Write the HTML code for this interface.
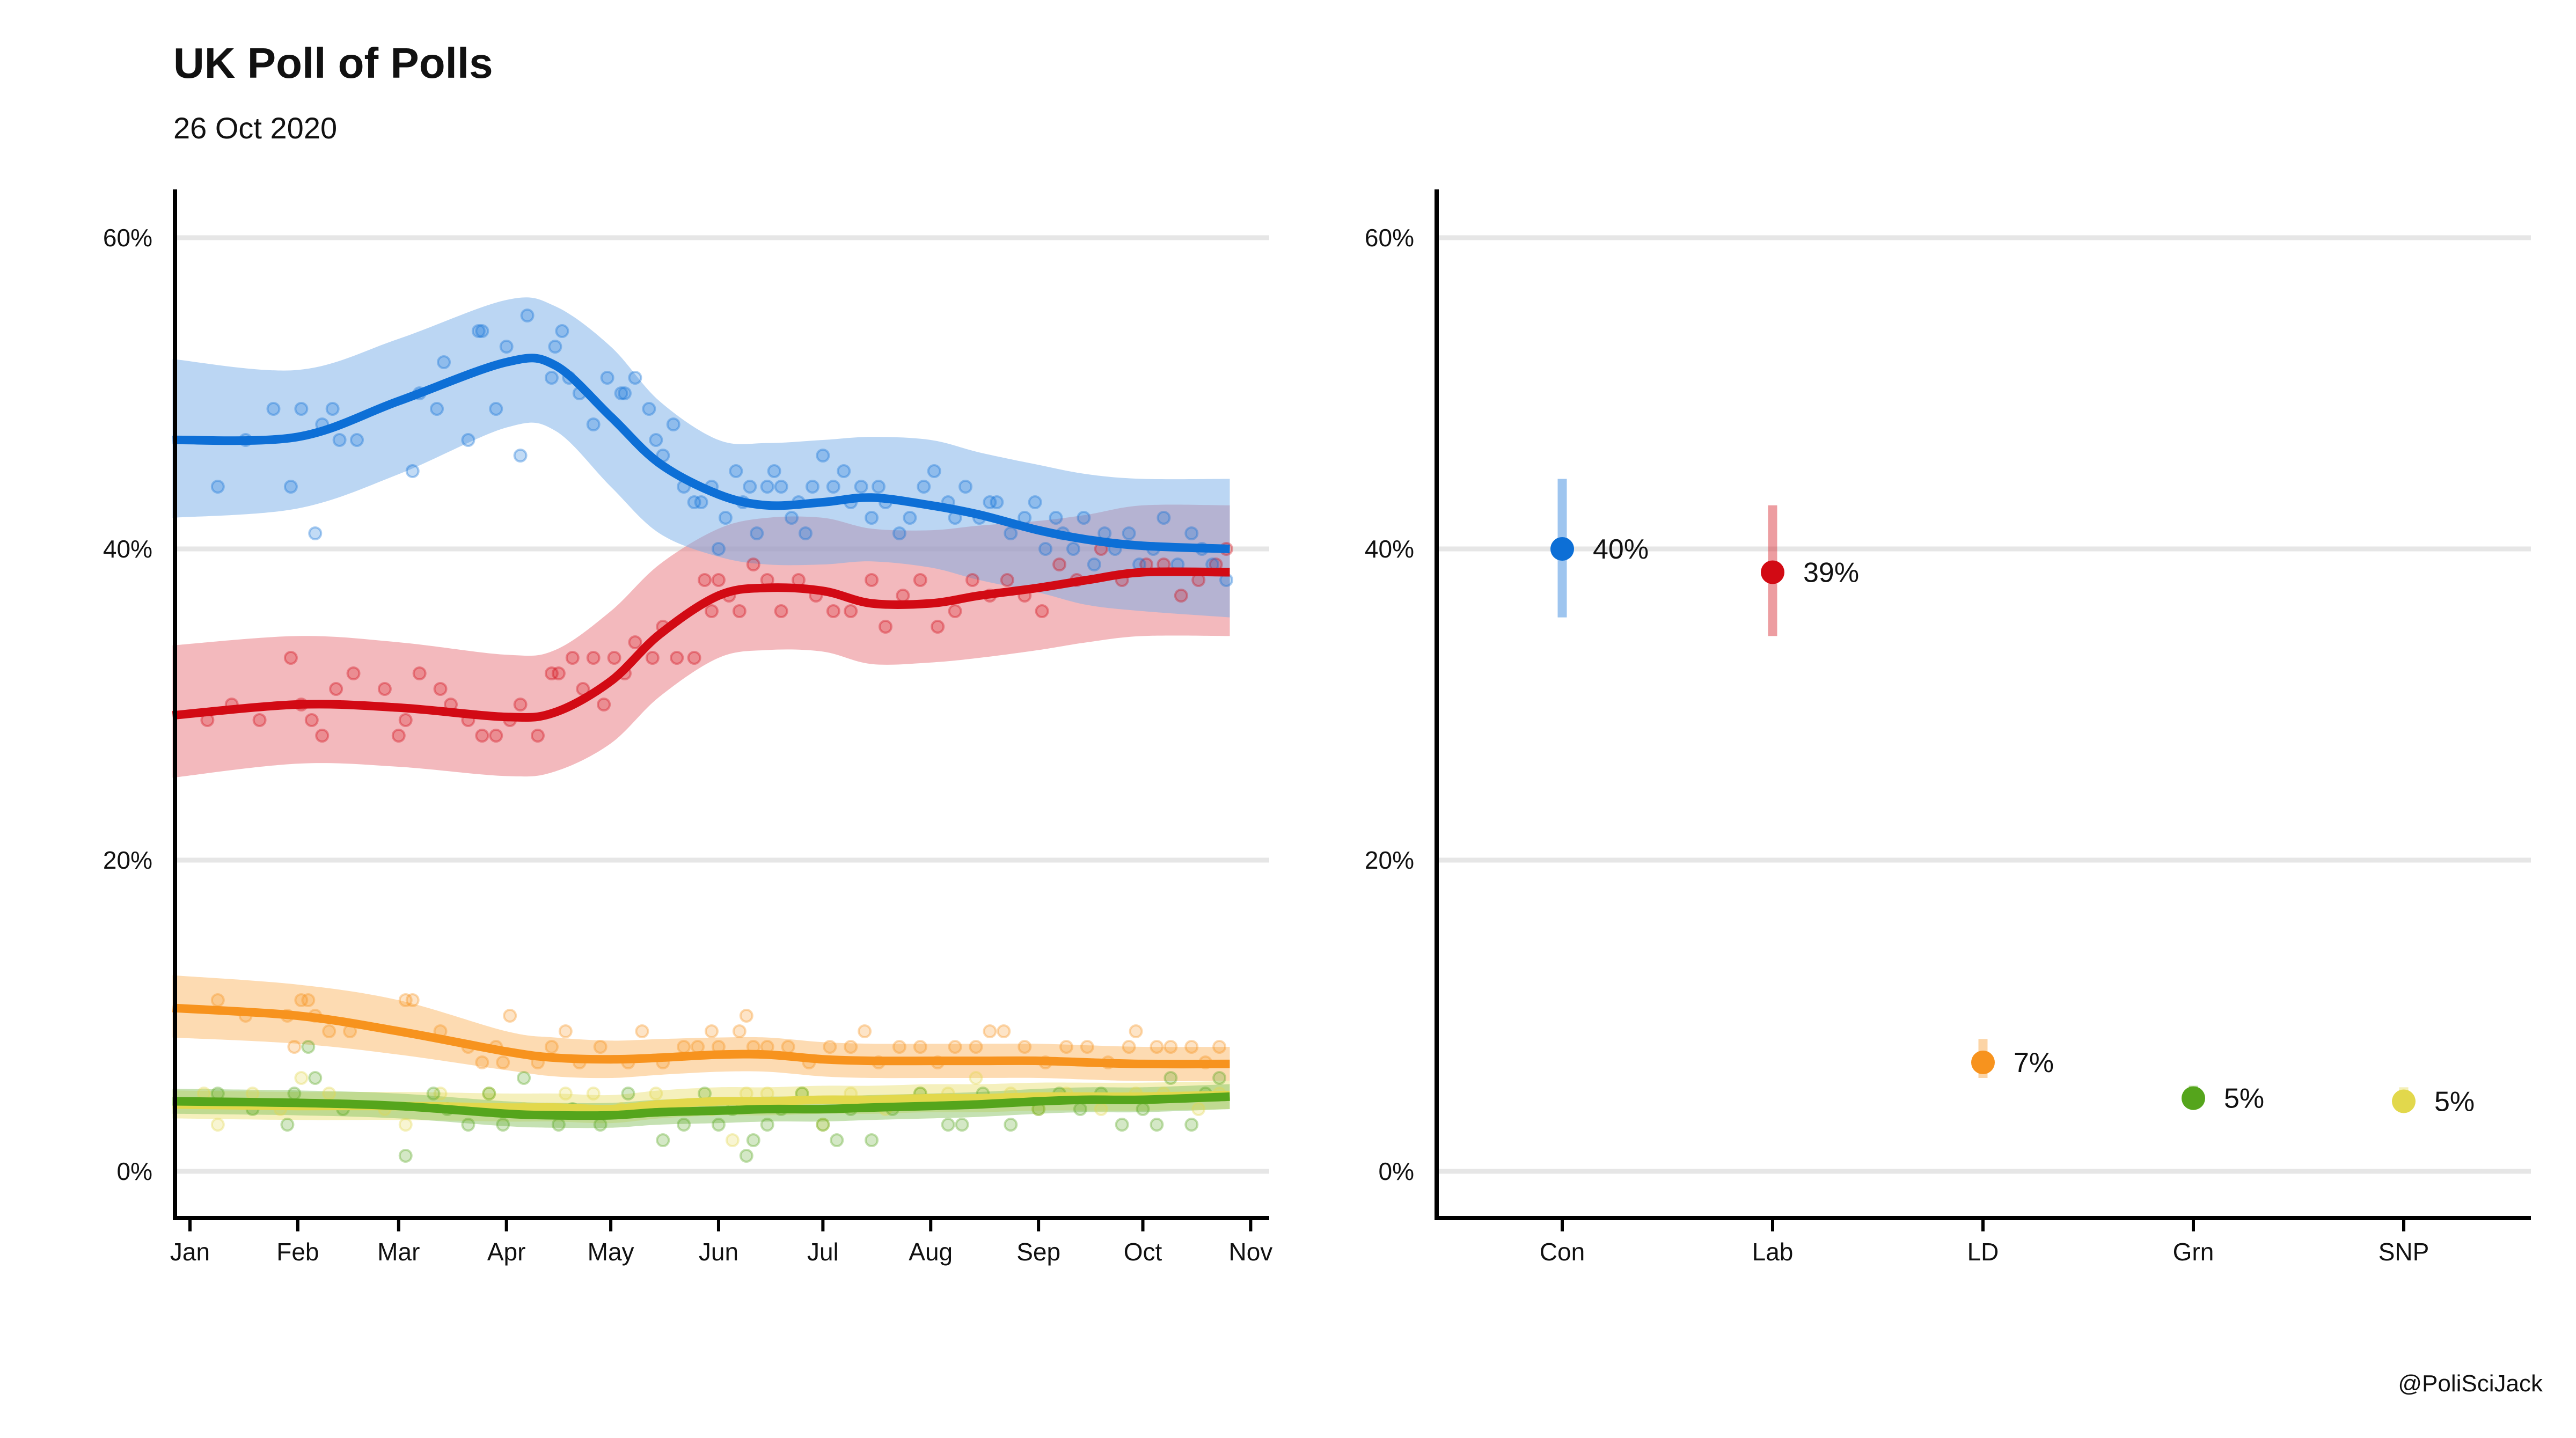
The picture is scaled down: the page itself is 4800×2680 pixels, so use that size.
<!DOCTYPE html>
<html><head><meta charset="utf-8"><style>
html,body{margin:0;padding:0;background:#fff;}
svg{display:block;font-family:"Liberation Sans",sans-serif;}
</style></head><body>
<svg id="chart" width="4800" height="2680" viewBox="0 0 4800 2680" xmlns="http://www.w3.org/2000/svg">
<text x="323" y="145" font-size="80" font-weight="bold" fill="#111">UK Poll of Polls</text>
<text x="323" y="258" font-size="56" fill="#111">26 Oct 2020</text>
<text x="4738" y="2593" font-size="44" text-anchor="end" fill="#111">@PoliSciJack</text>
<g id="left"></g>
<g id="right"></g>
</svg>
<script>
const yTicks=[0,20,40,60];
const monthLabels=["Jan","Feb","Mar","Apr","May","Jun","Jul","Aug","Sep","Oct","Nov"];
const monthDays=[0,31,60,91,121,152,182,213,244,274,305];
const knotDays=[-5,31,60,91,105,121,135,152,166,182,196,213,227,244,258,274,299];
const conTrend=[47,47.2,49.5,52,51.8,48.5,45.5,43.5,42.8,43,43.3,42.8,42.2,41.2,40.6,40.2,40];
const conUpper=[52.2,51.5,53.5,56,55.6,53,49.5,47,46.8,47,47.2,47,46.2,45.4,44.8,44.5,44.5];
const conLower=[42,42.6,44.8,47.8,47.6,44,41,39.5,39,39,39.2,38.8,38,37.2,36.4,36,35.6];
const labTrend=[29.3,30,29.8,29.2,29.5,31.5,34.5,37,37.5,37.3,36.5,36.5,37,37.5,38,38.5,38.5];
const labUpper=[33.8,34.4,34,33.2,33.5,36,39,41.3,42,42,41.3,41.2,41.5,41.8,42.2,42.8,42.8];
const labLower=[25.3,26.2,26,25.4,25.7,27.5,30.5,33,33.5,33.4,32.6,32.7,33,33.5,34,34.4,34.4];
const ldTrend=[10.5,10,9,7.7,7.3,7.2,7.3,7.5,7.5,7.2,7.1,7.1,7.1,7.1,7,6.9,6.9];
const ldUpper=[12.6,12,11,9,8.6,8.4,8.5,8.6,8.6,8.3,8.2,8.2,8.2,8.2,8.1,8,8];
const ldLower=[8.6,8.2,7.5,6.5,6.1,6,6.2,6.4,6.4,6.1,6,6,6,6,5.9,5.8,5.8];
const grnTrend=[4.5,4.4,4.2,3.7,3.6,3.6,3.8,3.9,4,4,4.1,4.2,4.3,4.5,4.6,4.6,4.8];
const grnUpper=[5.3,5.2,5,4.5,4.4,4.4,4.6,4.7,4.8,4.8,4.9,5,5.1,5.3,5.4,5.4,5.6];
const grnLower=[3.7,3.6,3.4,2.9,2.8,2.8,3,3.1,3.2,3.2,3.3,3.4,3.5,3.7,3.8,3.8,4];
const snpTrend=[4.3,4.2,4.2,4.1,4.1,4,4.3,4.5,4.5,4.6,4.6,4.7,4.7,4.8,4.8,4.8,4.9];
const snpUpper=[5.2,5.1,5.1,5,5,4.9,5.2,5.4,5.4,5.5,5.5,5.6,5.6,5.7,5.7,5.7,5.8];
const snpLower=[3.4,3.3,3.3,3.2,3.2,3.1,3.4,3.6,3.6,3.7,3.7,3.8,3.8,3.9,3.9,3.9,4];
const conPolls=[[8,44],[16,47],[24,49],[29,44],[32,49],[36,41],[38,48],[41,49],[43,47],[48,47],[64,45],[66,50],[71,49],[73,52],[80,47],[83,54],[84,54],[88,49],[91,53],[95,46],[97,55],[104,51],[105,53],[107,54],[109,51],[112,50],[116,48],[120,51],[124,50],[125,50],[128,51],[132,49],[134,47],[136,46],[139,48],[142,44],[145,43],[147,43],[150,44],[152,40],[154,42],[157,45],[159,43],[161,44],[163,41],[166,44],[168,45],[170,44],[173,42],[175,43],[177,41],[179,44],[182,46],[185,44],[188,45],[190,43],[193,44],[196,42],[198,44],[200,43],[204,41],[207,42],[211,44],[214,45],[218,43],[220,42],[223,44],[227,42],[230,43],[232,43],[236,41],[240,42],[243,43],[246,40],[249,42],[251,41],[254,40],[257,42],[260,39],[263,41],[266,40],[270,41],[273,39],[277,40],[280,42],[284,39],[288,41],[291,40],[294,39],[298,38]];
const labPolls=[[5,29],[12,30],[20,29],[29,33],[32,30],[35,29],[38,28],[42,31],[47,32],[56,31],[60,28],[62,29],[66,32],[72,31],[75,30],[80,29],[84,28],[88,28],[92,29],[95,30],[100,28],[104,32],[106,32],[110,33],[113,31],[116,33],[119,30],[122,33],[125,32],[128,34],[133,33],[136,35],[140,33],[145,33],[148,38],[150,36],[152,38],[155,37],[158,36],[162,39],[166,38],[170,36],[175,38],[180,37],[185,36],[190,36],[196,38],[200,35],[205,37],[210,38],[215,35],[220,36],[225,38],[230,37],[235,38],[240,37],[245,36],[250,39],[255,38],[262,40],[268,38],[275,39],[280,39],[285,37],[290,38],[295,39],[298,40]];
const ldPolls=[[8,11],[16,10],[28,10],[30,8],[32,11],[34,11],[36,10],[40,9],[46,9],[62,11],[64,11],[72,9],[80,8],[84,7],[88,8],[90,7],[92,10],[100,7],[104,8],[108,9],[112,7],[118,8],[126,7],[130,9],[136,7],[142,8],[146,8],[150,9],[152,8],[158,9],[160,10],[162,8],[166,8],[172,8],[178,7],[184,8],[190,8],[194,9],[198,7],[204,8],[210,8],[215,7],[220,8],[226,8],[230,9],[234,9],[240,8],[246,7],[252,8],[258,8],[264,7],[270,8],[272,9],[278,8],[282,8],[288,8],[292,7],[296,8]];
const grnPolls=[[8,5],[18,4],[28,3],[30,5],[34,8],[36,6],[44,4],[62,1],[70,5],[74,4],[80,3],[86,5],[90,3],[96,6],[106,3],[110,4],[118,3],[126,5],[132,4],[136,2],[142,3],[148,5],[152,3],[156,4],[160,1],[162,2],[166,3],[170,4],[176,5],[182,3],[186,2],[190,4],[196,2],[202,4],[210,5],[218,3],[222,3],[228,5],[236,3],[244,4],[250,5],[256,4],[262,5],[268,3],[274,4],[278,3],[282,6],[288,3],[292,5],[296,6]];
const snpPolls=[[4,5],[8,3],[18,5],[26,4],[32,6],[40,5],[56,4],[62,3],[72,5],[86,5],[96,4],[108,5],[116,5],[124,4],[134,5],[144,4],[150,4],[156,2],[160,5],[166,5],[176,5],[182,3],[190,5],[200,4],[210,5],[218,5],[226,6],[236,5],[244,4],[252,5],[262,4],[272,5],[280,5],[290,4],[296,5]];
const catLabels=["Con","Lab","LD","Grn","SNP"];
const catEst=[40,38.5,7,4.7,4.5];
const catLo=[35.6,34.4,6,4.3,4.1];
const catHi=[44.5,42.8,8.5,5.5,5.4];
const catText=["40%","39%","7%","5%","5%"];

const NS="http://www.w3.org/2000/svg";
const L=document.getElementById('left'), R=document.getElementById('right');
function xL(d){return 354+d*6.48;}
function yS(p){return 2183-p*29;}
function xR(i){return 2911+i*392;}
function mk(tag,attrs,parent){const e=document.createElementNS(NS,tag);for(const k in attrs)e.setAttribute(k,attrs[k]);parent.appendChild(e);return e;}
function smooth(pts){
  let d="M"+pts[0][0]+","+pts[0][1];
  for(let i=0;i<pts.length-1;i++){
    const p0=pts[Math.max(0,i-1)],p1=pts[i],p2=pts[i+1],p3=pts[Math.min(pts.length-1,i+2)];
    const c1x=p1[0]+(p2[0]-p0[0])/6,c1y=p1[1]+(p2[1]-p0[1])/6;
    const c2x=p2[0]-(p3[0]-p1[0])/6,c2y=p2[1]-(p3[1]-p1[1])/6;
    d+=" C"+c1x+","+c1y+" "+c2x+","+c2y+" "+p2[0]+","+p2[1];
  }
  return d;
}
function pts(vals){return knotDays.map((d,i)=>[xL(d),yS(vals[i])]);}
function bandPath(up,lo){
  const u=pts(up), l=pts(lo).reverse();
  return smooth(u)+" L"+l[0][0]+","+l[0][1]+smooth(l).replace(/^M[^ ]+/,"")+" Z";
}
[[L,326,2365],[R,2677,4716]].forEach(([g,x1,x2],pi)=>{
  yTicks.forEach(t=>{
    const ln=mk('line',{x1:x1,x2:x2,y1:yS(t),y2:yS(t),stroke:'#e6e6e6','stroke-width':9},g);
    
    
    const tx=mk('text',{x:x1-42,y:yS(t)+16,'font-size':46,'text-anchor':'end',fill:'#111'},g);
    tx.textContent=t+"%";
    
    
  });
});
const parties=[
 {n:'lab',c:'#d20a14',b:'#e7747b',t:labTrend,u:labUpper,l:labLower,p:labPolls},
 {n:'con',c:'#0d6fd6',b:'#78aee8',t:conTrend,u:conUpper,l:conLower,p:conPolls},
 {n:'ld',c:'#f7931e',b:'#fbb766',t:ldTrend,u:ldUpper,l:ldLower,p:ldPolls},
 {n:'snp',c:'#e2d84c',b:'#ece27a',t:snpTrend,u:snpUpper,l:snpLower,p:snpPolls},
 {n:'grn',c:'#55a51c',b:'#8cc466',t:grnTrend,u:grnUpper,l:grnLower,p:grnPolls}
];
parties.forEach(P=>{
  const b=mk('path',{d:bandPath(P.u,P.l),fill:P.b,'fill-opacity':0.5},L);
  
  
});
parties.forEach(P=>{
  P.p.forEach(q=>{
    const c=mk('circle',{cx:xL(q[0]),cy:yS(q[1]),r:11,fill:P.c,'fill-opacity':0.25,stroke:P.c,'stroke-opacity':0.35,'stroke-width':4},L);
    
    
  });
});
parties.forEach(P=>{
  const ln=mk('path',{d:smooth(pts(P.t)),fill:'none',stroke:P.c,'stroke-width':16,'stroke-linecap':'butt'},L);
  
  
});
let a=mk('line',{x1:326,x2:326,y1:353,y2:2274,stroke:'#000','stroke-width':8},L);

a=mk('line',{x1:322,x2:2365,y1:2270,y2:2270,stroke:'#000','stroke-width':8},L);

monthDays.forEach((d,i)=>{
  const tk=mk('line',{x1:xL(d),x2:xL(d),y1:2270,y2:2295,stroke:'#000','stroke-width':6},L);
  
  
  const tx=mk('text',{x:xL(d),y:2349,'font-size':46,'text-anchor':'middle',fill:'#111'},L);
  tx.textContent=monthLabels[i];
  
  
});
const rc=['#0d6fd6','#d20a14','#f7931e','#55a51c','#e2d84c'];
catLabels.forEach((lab,i)=>{
  const e=mk('line',{x1:xR(i),x2:xR(i),y1:yS(catHi[i]),y2:yS(catLo[i]),stroke:rc[i],'stroke-opacity':0.4,'stroke-width':17},R);
  
  
  const c=mk('ellipse',{cx:xR(i),cy:yS(catEst[i]),rx:22,ry:22,fill:rc[i]},R);
  
  
  const t=mk('text',{x:xR(i)+57,y:yS(catEst[i])+18,'font-size':52,fill:'#111'},R);
  t.textContent=catText[i];
  
  
  const tk=mk('line',{x1:xR(i),x2:xR(i),y1:2270,y2:2295,stroke:'#000','stroke-width':6},R);
  
  
  const tx=mk('text',{x:xR(i),y:2349,'font-size':46,'text-anchor':'middle',fill:'#111'},R);
  tx.textContent=lab;
  
  
});
a=mk('line',{x1:2677,x2:2677,y1:353,y2:2274,stroke:'#000','stroke-width':8},R);

a=mk('line',{x1:2673,x2:4716,y1:2270,y2:2270,stroke:'#000','stroke-width':8},R);

</script>
</body></html>
